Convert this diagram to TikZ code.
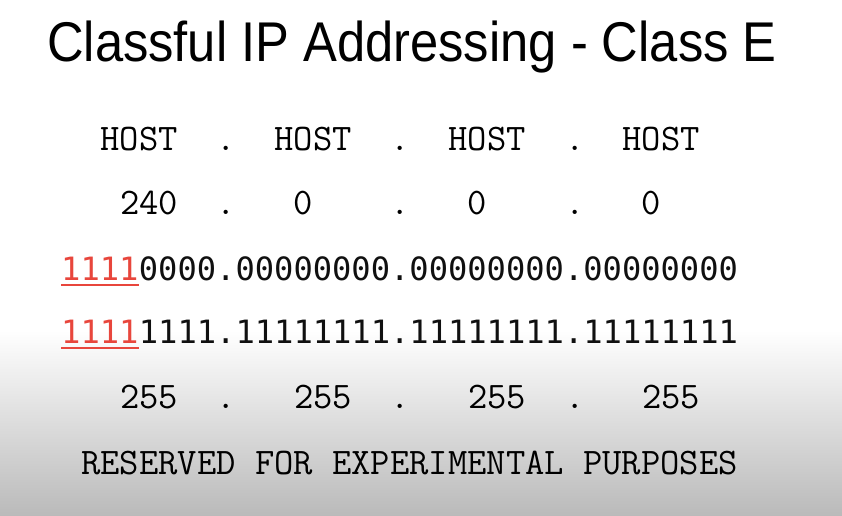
\documentclass[tikz,border=0pt]{standalone}
\usepackage{fontspec}
\setmainfont{Liberation Sans}
\newfontfamily\titlefont{Liberation Sans}
\newfontfamily\lmtt{Latin Modern Mono}
\newfontfamily\binfont{DejaVu Sans Mono}
\definecolor{redbits}{HTML}{E8463C}
\definecolor{bintext}{HTML}{101010}
\begin{document}
\begin{tikzpicture}[x=1pt,y=-1pt,
  txt/.style={inner sep=0pt,anchor=base},
  tt/.style={txt,font=\lmtt\fontsize{37.5}{40}\selectfont},
  bin/.style={inner sep=0pt,anchor=base west,text=bintext,font=\binfont\fontsize{32.1}{36}\selectfont},
  redund/.style={redbits,line width=2.8pt}]
\useasboundingbox (0,0) rectangle (842,515);
\fill[white] (0,0) rectangle (842,330);
\shade[top color=white,bottom color=black!27] (0,330) rectangle (842,515);
\node[txt,anchor=base west,font=\titlefont\fontsize{56}{60}\selectfont] (title) at (47,61) {\scalebox{0.905}[1]{Classful IP Addressing - Class E}};
% row 1
\node[tt] (h1) at (139,150) {HOST};
\node[tt] (d11) at (226,150) {.};
\node[tt] (h2) at (313,150) {HOST};
\node[tt] (d12) at (400,150) {.};
\node[tt] (h3) at (487,150) {HOST};
\node[tt] (d13) at (575,150) {.};
\node[tt] (h4) at (661,150) {HOST};
% row 2
\node[tt] (a1) at (149,214) {240};
\node[tt] (d21) at (226,214) {.};
\node[tt] (a2) at (303,214) {0};
\node[tt] (d22) at (400,214) {.};
\node[tt] (a3) at (477,214) {0};
\node[tt] (d23) at (575,214) {.};
\node[tt] (a4) at (651,214) {0};
% row 3
\node[bin,text=redbits] (r3) at (61,280) {1111};
\node[bin] (b3) at (r3.base east) {0000.00000000.00000000.00000000};
\draw[redund] ([yshift=-5pt]r3.base west) -- ([yshift=-5pt]r3.base east);
% row 4
\node[bin,text=redbits] (r4) at (61,343) {1111};
\node[bin] (b4) at (r4.base east) {1111.11111111.11111111.11111111};
\draw[redund] ([yshift=-5pt]r4.base west) -- ([yshift=-5pt]r4.base east);
% row 5
\node[tt] (c1) at (149,408) {255};
\node[tt] (d51) at (226,408) {.};
\node[tt] (c2) at (323,408) {255};
\node[tt] (d52) at (400,408) {.};
\node[tt] (c3) at (497,408) {255};
\node[tt] (d53) at (575,408) {.};
\node[tt] (c4) at (671,408) {255};
% row 6
\node[tt,anchor=base west] (res) at (81,474) {RESERVED FOR EXPERIMENTAL PURPOSES};
\end{tikzpicture}
\end{document}
